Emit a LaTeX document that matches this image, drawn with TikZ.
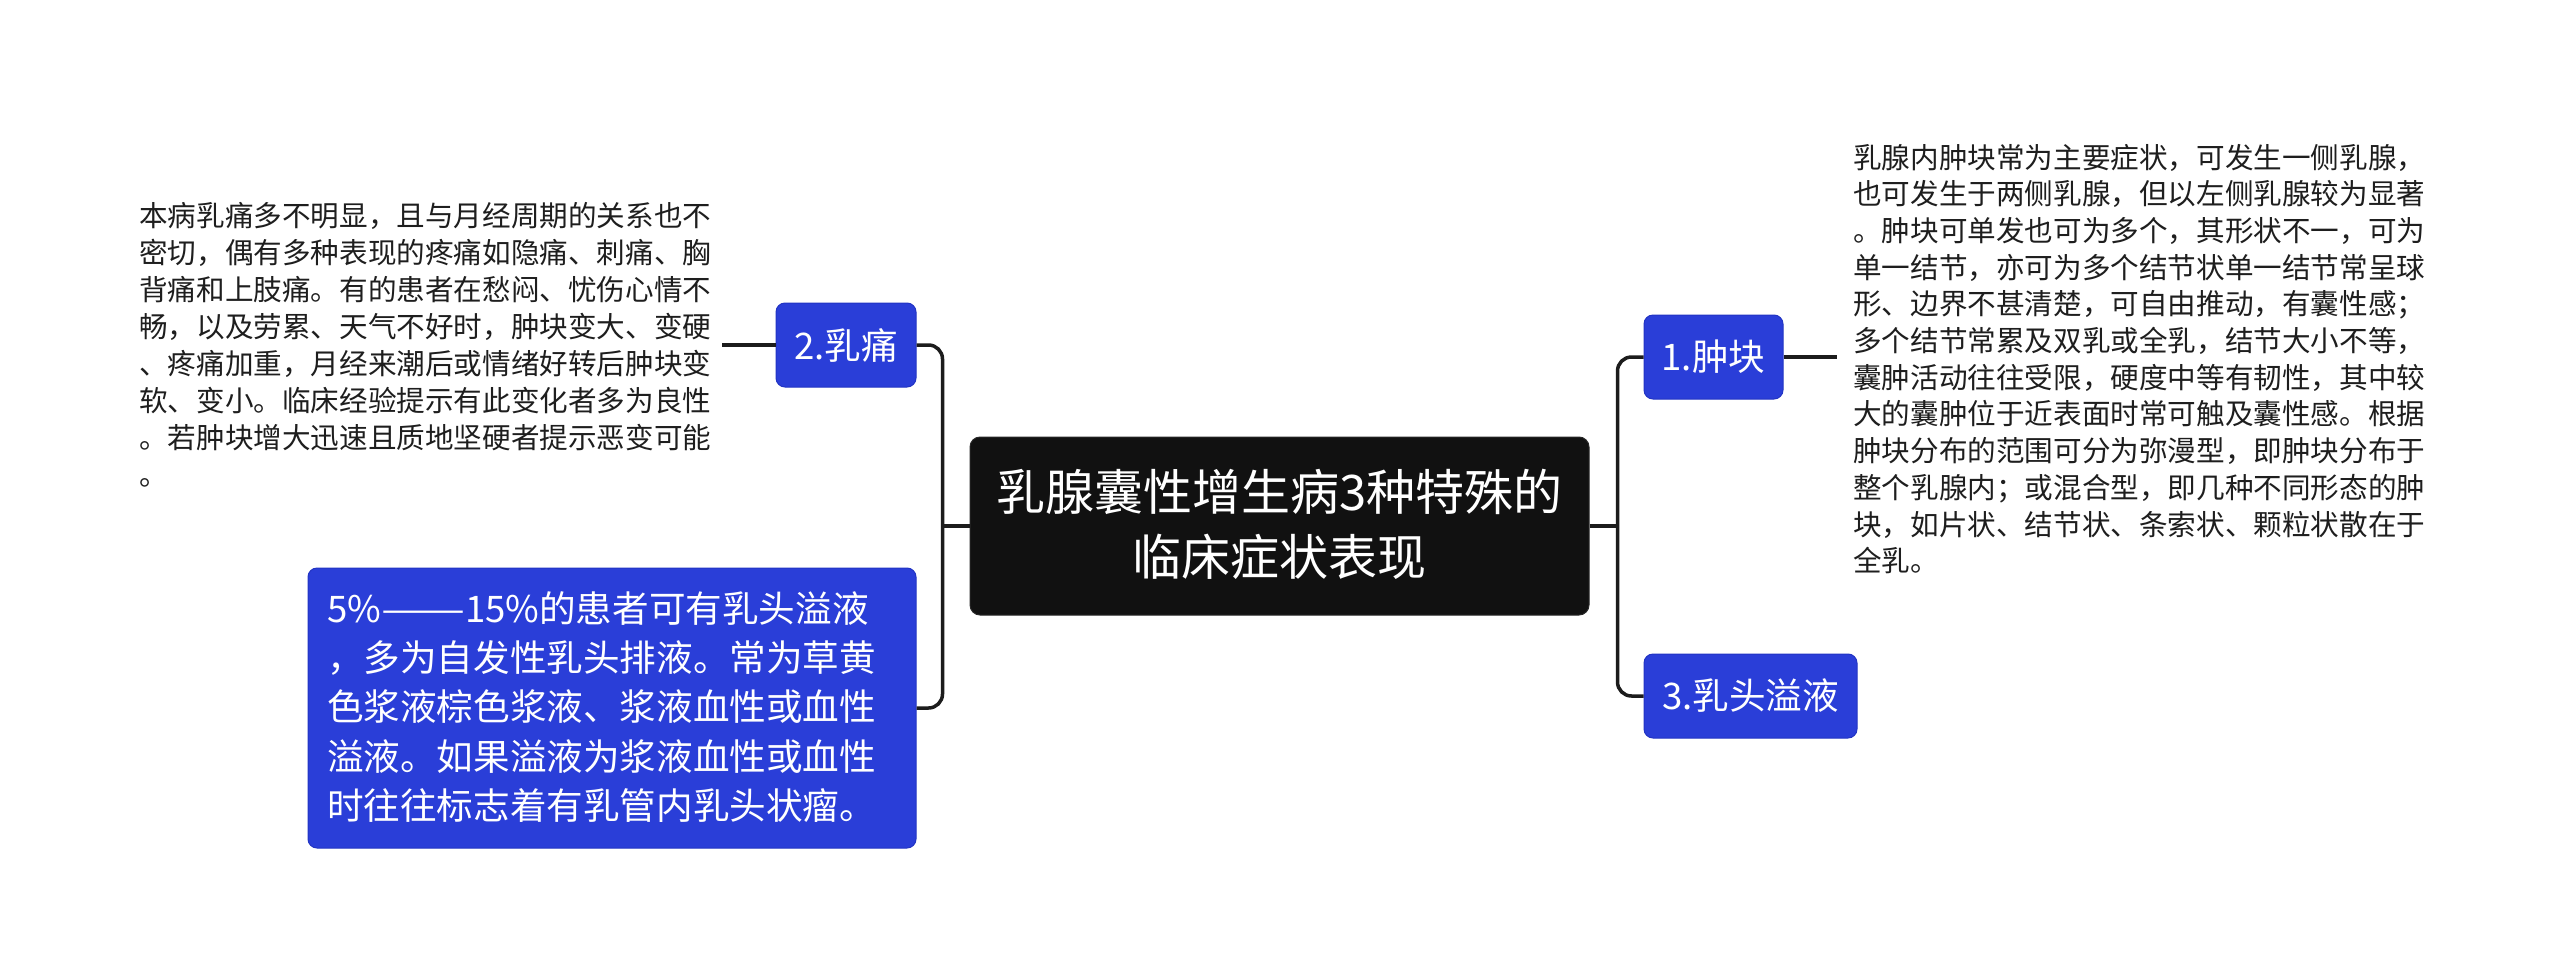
\documentclass[tikz,border=0pt]{standalone}
\usepackage{fontspec}
\usepackage{graphicx}
\setmainfont{Noto Sans CJK SC}
\definecolor{nodeblue}{RGB}{42,62,216}
\definecolor{nodeedge}{RGB}{34,52,196}
\definecolor{rootc}{RGB}{17,17,17}
\definecolor{rootedge}{RGB}{40,40,40}
\definecolor{linec}{RGB}{28,28,28}
\definecolor{textc}{RGB}{30,30,30}
\newcommand\sline{\rule[-0.15em]{0pt}{0.9em}}
\begin{document}
\begin{tikzpicture}[x=1pt,y=-1pt,
  conn/.style={draw=linec, line width=3.5pt, rounded corners=14pt},
  topicbox/.style={rectangle, rounded corners=9pt, fill=nodeblue, draw=nodeedge, line width=1pt, text=white, inner sep=0pt, font=\fontsize{36.6}{49.3}\selectfont},
  freetext/.style={inner sep=0pt, align=left, text=textc, anchor=west},
  rootbox/.style={rectangle, rounded corners=10pt, fill=rootc, draw=rootedge, line width=1pt, text=white, inner sep=0pt, align=center, font=\fontsize{49}{65}\selectfont}
]
\useasboundingbox[fill=white] (0,0) rectangle (2560,972);

\node[rootbox, minimum width=619pt, minimum height=178pt] (c) at (1279.5,526) {\sline 乳腺囊性增生病3种特殊的\\\sline 临床症状表现};

\node[topicbox, minimum width=140pt, minimum height=84pt] (p2) at (846,345) {2.乳痛};
\node[topicbox, minimum width=139pt, minimum height=84pt] (p1) at (1713.5,357) {1.肿块};
\node[topicbox, minimum width=213pt, minimum height=84pt] (p3) at (1750.5,696) {3.乳头溢液};
\node[topicbox, minimum width=608pt, minimum height=280pt, text width=570pt, align=left, inner xsep=19pt] (p5) at (612,708) {\sline 5\%\scalebox{1.37}[1]{——}15\%的患者可有乳头溢液\\
\sline ，多为自发性乳头排液。常为草黄\\
\sline 色浆液棕色浆液、浆液血性或血性\\
\sline 溢液。如果溢液为浆液血性或血性\\
\sline 时往往标志着有乳管内乳头状瘤。};

\node[freetext, font=\fontsize{28.6}{37}\selectfont] (t2) at (139,346.5) {\sline 本病乳痛多不明显，且与月经周期的关系也不\\
\sline 密切，偶有多种表现的疼痛如隐痛、刺痛、胸\\
\sline 背痛和上肢痛。有的患者在愁闷、忧伤心情不\\
\sline 畅，以及劳累、天气不好时，肿块变大、变硬\\
\sline 、疼痛加重，月经来潮后或情绪好转后肿块变\\
\sline 软、变小。临床经验提示有此变化者多为良性\\
\sline 。若肿块增大迅速且质地坚硬者提示恶变可能\\
\sline 。};

\node[freetext, font=\fontsize{28.6}{36.7}\selectfont] (t1) at (1853,360) {\sline 乳腺内肿块常为主要症状，可发生一侧乳腺，\\
\sline 也可发生于两侧乳腺，但以左侧乳腺较为显著\\
\sline 。肿块可单发也可为多个，其形状不一，可为\\
\sline 单一结节，亦可为多个结节状单一结节常呈球\\
\sline 形、边界不甚清楚，可自由推动，有囊性感；\\
\sline 多个结节常累及双乳或全乳，结节大小不等，\\
\sline 囊肿活动往往受限，硬度中等有韧性，其中较\\
\sline 大的囊肿位于近表面时常可触及囊性感。根据\\
\sline 肿块分布的范围可分为弥漫型，即肿块分布于\\
\sline 整个乳腺内；或混合型，即几种不同形态的肿\\
\sline 块，如片状、结节状、条索状、颗粒状散在于\\
\sline 全乳。};

\coordinate (bl) at ([xshift=-27pt]c.west);
\coordinate (br) at ([xshift=28pt]c.east);
\coordinate (t2e) at ([xshift=11pt]t2.east);
\coordinate (t1w) at ([xshift=-16pt]t1.west);

\draw[conn] (p2.east) -| (bl) |- (p5.east);
\draw[conn] (c.west) -- (bl);
\draw[conn] (p1.west) -| (br) |- (p3.west);
\draw[conn] (c.east) -- (br);
\draw[conn] (p2.west) -- (t2e |- p2.west);
\draw[conn] (p1.east) -- (t1w |- p1.east);
\end{tikzpicture}
\end{document}
